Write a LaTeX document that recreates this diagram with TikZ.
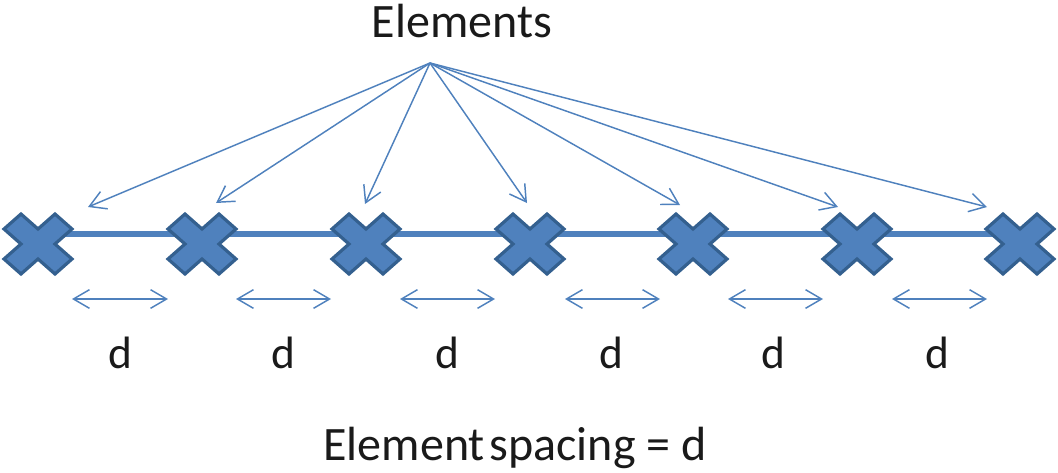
\documentclass[tikz,border=0pt]{standalone}
\usepackage{fontspec}
\setmainfont{Carlito}
\usetikzlibrary{arrows.meta}
\definecolor{elemfill}{HTML}{4F81BD}
\definecolor{elemedge}{HTML}{34608F}
\definecolor{linkblue}{HTML}{4F81BD}
\definecolor{txt}{HTML}{1A1A1A}
\tikzset{
  pointer/.style={draw=linkblue, line width=1.1pt,
    -{Straight Barb[length=12pt,width=14pt,line width=1.1pt]}},
  spanarrow/.style={draw=linkblue, line width=1.1pt,
    {Straight Barb[length=12pt,width=14pt,line width=1.1pt]}-{Straight Barb[length=12pt,width=14pt,line width=1.1pt]}},
  axisline/.style={draw=linkblue, line width=4.5pt},
  label/.style={text=txt, inner sep=0pt, anchor=base},
  elemshape/.style={fill=elemfill, draw=elemedge, line width=2.4pt, line join=miter},
  pics/element/.style={code={
    \path[elemshape, xscale=34, yscale=30]
      (0,0.5) -- (0.5,1) -- (1,0.5) -- (0.5,0) -- (1,-0.5) -- (0.5,-1)
      -- (0,-0.5) -- (-0.5,-1) -- (-1,-0.5) -- (-0.5,0) -- (-1,0.5)
      -- (-0.5,1) -- cycle;
  }}
}
\begin{document}
\begin{tikzpicture}[x=0.75pt, y=-0.75pt]
\useasboundingbox (0,0) rectangle (1058,472);

% element positions along the array
\coordinate (e1) at (38,244);
\coordinate (e2) at (202,244);
\coordinate (e3) at (366,244);
\coordinate (e4) at (530,244);
\coordinate (e5) at (693,244);
\coordinate (e6) at (857,244);
\coordinate (e7) at (1020,244);

% array axis, running slightly above the element centres
\draw[axisline] ([yshift=7.5pt]e1) -- ([yshift=7.5pt]e7);
\foreach \i in {1,...,7} { \pic at (e\i) {element}; }

% title and pointers
\node[label, font=\fontsize{36}{42}\selectfont] (title) at (462,37) {Elements};
\coordinate (hub) at (430,63);
\coordinate (p1) at (88,207);
\coordinate (p2) at (216,203);
\coordinate (p3) at (365,204);
\coordinate (p4) at (527,203);
\coordinate (p5) at (680,205);
\coordinate (p6) at (838,207);
\coordinate (p7) at (987,207);
\foreach \i in {1,...,7} { \draw[pointer] (hub) -- (p\i); }

% spacing arrows and labels
\foreach \i/\xa/\xb/\xl in {1/72/168/120, 2/236/331/283, 3/400/495/447,
                            4/565/660/611, 5/728/823/773, 6/892/987/937} {
  \coordinate (sa\i) at (\xa,299);
  \coordinate (sb\i) at (\xb,299);
  \draw[spanarrow] (sa\i) -- (sb\i);
  \node[label, font=\fontsize{34}{40}\selectfont] (d\i) at (\xl,368) {d};
}

\node[label, font=\fontsize{36}{42}\selectfont] (caption) at (515,460)
  {Element\hspace{0.1em}spacing = d};
\end{tikzpicture}
\end{document}
